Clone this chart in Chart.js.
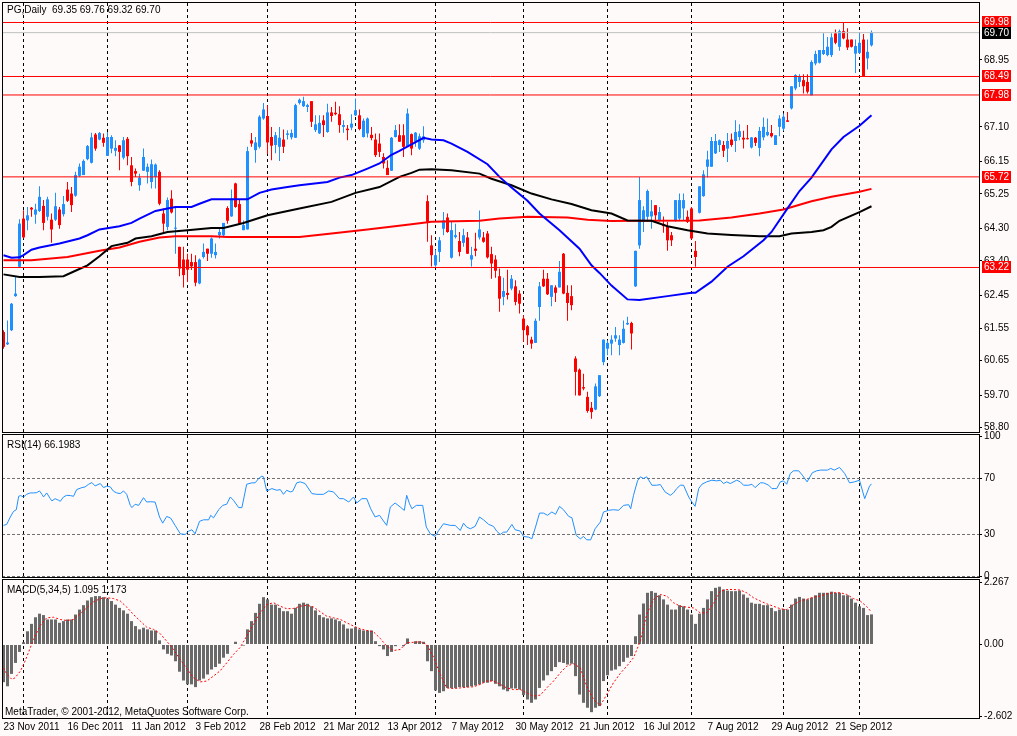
<!DOCTYPE html>
<html><head><meta charset="utf-8">
<script src="https://cdn.jsdelivr.net/npm/chart.js@4.4.1/dist/chart.umd.min.js"></script>
<style>
html,body{margin:0;padding:0;background:#FFFAFA;}
#wrap{position:relative;width:1017px;height:736px;overflow:hidden;background:#FFFAFA;}
canvas{position:absolute;left:0;top:0;}
.t{position:absolute;font:10px "Liberation Sans",Arial,sans-serif;color:#000;white-space:pre;line-height:12px;}
</style></head><body>
<div id="wrap">
<canvas id="cMain" width="1017" height="736"></canvas>
<canvas id="cRsi" width="1017" height="736"></canvas>
<canvas id="cMacd" width="1017" height="736"></canvas>
<div class="t" style="left:7px;top:4px">PG,Daily  69.35 69.76 69.32 69.70</div>
<div class="t" style="left:7px;top:439px">RSI(14) 66.1983</div>
<div class="t" style="left:7px;top:584px">MACD(5,34,5) 1.095 1.173</div>
<div class="t" style="left:5px;top:706px">MetaTrader, © 2001-2012, MetaQuotes Software Corp.</div>
</div>
<script>
// ---------- DATA ----------
const dateTickBars = [0,16,32,48,64,80,96,112,128,144,160,176,192,208];
const dateTickLabels = ["23 Nov 2011","16 Dec 2011","11 Jan 2012","3 Feb 2012","28 Feb 2012","21 Mar 2012","13 Apr 2012","7 May 2012","30 May 2012","21 Jun 2012","16 Jul 2012","7 Aug 2012","29 Aug 2012","21 Sep 2012"];
const monthStartBars = [5,26,46,66,88,108,130,151,172,195,214];

const priceTicks = [58.80,59.70,60.65,61.55,62.45,63.40,64.30,65.25,66.15,67.10,68.95];
const priceLevels = [69.98,68.49,67.98,65.72,63.22];
const lastPrice = 69.70;

const barOpen = [
61.44,61.10,61.49,62.43,63.24,64.57,64.52,64.87,64.68,64.78,
64.92,64.62,64.54,64.54,64.82,64.69,65.37,65.26,65.20,65.75,
65.77,66.21,66.11,66.89,66.75,66.80,66.30,66.50,66.44,66.59,
66.25,66.77,66.04,65.88,65.49,65.89,65.86,65.58,65.72,65.86,
64.71,64.34,65.12,64.29,63.79,63.44,63.44,63.37,63.37,62.78,
63.51,63.74,63.60,63.56,64.11,64.11,64.86,64.63,65.54,64.97,
64.25,64.27,66.73,66.46,66.55,67.33,67.40,66.82,66.60,66.55,
66.75,66.88,66.81,66.80,67.76,67.67,67.65,67.81,67.01,66.92,
67.28,66.96,67.50,67.49,67.45,67.10,67.05,67.08,67.42,67.42,
66.82,66.92,66.88,66.75,66.64,66.27,65.97,65.89,66.82,66.87,
66.87,66.55,66.90,66.69,66.50,66.73,65.05,63.83,63.28,63.65,
64.29,64.60,63.49,64.06,63.95,63.90,64.05,63.44,63.74,64.05,
64.05,64.16,63.59,63.44,62.98,62.41,62.52,62.64,62.70,62.50,
61.81,61.60,61.23,61.14,62.13,62.91,62.91,62.41,62.67,62.67,
63.60,62.52,62.43,60.71,60.40,59.92,59.65,59.35,59.30,59.67,
60.61,60.98,61.12,61.26,61.08,61.14,61.65,61.69,62.70,63.83,
64.48,64.62,64.63,64.94,64.52,64.41,64.34,64.11,64.52,64.57,
64.85,64.62,64.85,63.68,64.73,65.19,66.00,66.00,66.37,66.60,
66.60,66.50,66.75,66.71,66.82,66.80,66.78,66.53,66.80,66.52,
66.81,66.87,66.93,66.60,67.10,67.05,67.28,67.61,68.16,68.34,
68.39,68.34,67.97,68.85,68.87,69.11,69.08,69.08,69.68,69.31,
69.74,69.51,69.51,69.12,69.14,69.51,68.99,69.35];
const barHigh = [
61.49,61.76,62.24,62.96,64.55,64.80,64.89,64.89,64.98,65.46,
65.08,65.17,64.71,65.28,64.89,65.19,65.58,65.44,65.86,66.09,
66.20,66.60,66.94,66.93,66.96,66.92,66.96,66.87,66.73,66.60,
66.82,66.82,66.27,65.95,65.81,66.50,66.09,66.20,66.09,65.90,
64.85,65.15,65.35,64.91,63.79,63.79,63.60,63.60,63.56,63.47,
63.88,63.74,64.05,63.88,64.34,64.45,64.91,65.37,65.56,65.08,
64.52,66.55,66.93,66.82,67.42,67.76,67.70,67.10,66.96,67.10,
67.03,67.01,67.03,67.74,67.88,67.93,67.74,67.81,67.42,67.42,
67.42,67.74,67.65,67.79,67.67,67.28,67.15,67.45,67.88,67.58,
67.33,67.36,67.10,66.92,66.92,66.37,66.18,66.82,67.15,67.17,
67.17,67.61,66.92,66.96,66.92,67.12,65.21,64.11,63.71,64.06,
64.75,64.71,64.48,64.43,64.20,64.29,64.20,63.79,64.18,64.79,
64.20,64.23,63.79,63.56,63.19,62.94,63.16,63.01,62.87,62.59,
61.90,61.63,61.31,61.81,62.82,63.16,63.07,62.73,62.73,63.40,
63.62,62.73,62.73,60.77,60.43,60.29,59.79,59.51,60.02,60.25,
61.23,61.21,61.35,61.58,61.35,61.76,61.86,61.72,63.68,65.72,
64.91,65.37,65.08,64.94,64.89,64.63,64.48,64.20,65.08,65.26,
65.26,64.79,64.89,63.95,65.46,65.90,66.44,66.82,66.90,66.75,
66.71,66.93,66.92,67.28,67.17,66.99,67.15,66.82,66.82,67.10,
67.36,67.33,67.15,66.87,67.42,67.47,67.51,68.22,68.55,68.55,
68.55,68.55,68.94,69.20,69.22,69.68,69.58,69.68,69.79,69.79,
69.97,69.82,69.51,69.51,69.72,69.66,69.51,69.76];
const barLow = [
60.98,61.08,61.47,62.41,63.22,64.02,64.25,64.62,64.43,64.75,
64.25,64.52,63.90,64.50,64.29,64.63,65.03,64.75,65.17,65.72,
65.77,66.18,66.09,66.44,66.73,66.55,66.30,66.37,66.29,65.90,
66.20,66.04,65.46,65.72,65.34,65.89,65.54,65.40,65.40,64.94,
64.16,64.25,64.71,63.60,62.98,62.67,62.82,63.15,62.70,62.76,
63.47,63.40,63.49,63.47,64.02,64.06,64.43,64.62,64.87,64.41,
64.25,64.27,66.55,66.11,66.50,67.30,66.35,66.18,66.37,66.16,
66.38,66.75,66.75,66.79,67.72,67.65,67.51,67.10,66.96,66.90,
66.82,66.94,67.24,67.42,66.94,66.94,66.73,67.01,67.40,67.01,
66.81,66.81,66.73,66.27,66.27,65.95,65.77,65.89,66.81,66.69,
66.27,66.55,66.32,66.55,66.46,66.66,63.93,63.25,63.24,63.37,
64.11,64.18,63.47,64.02,63.53,63.79,63.59,63.25,63.53,63.99,
63.90,63.47,62.91,62.94,62.00,62.18,62.34,62.59,62.18,61.95,
61.17,61.08,60.98,61.14,61.75,62.68,62.46,62.15,62.27,62.67,
62.48,61.75,62.04,59.69,59.69,59.83,59.21,59.05,59.28,59.65,
60.52,60.80,60.80,61.17,60.80,61.12,61.63,60.96,62.68,63.74,
64.20,64.48,64.29,64.48,64.48,64.18,63.68,63.81,64.48,64.52,
64.52,64.45,63.99,63.24,64.71,65.17,65.70,66.00,66.35,66.41,
66.27,66.13,66.55,66.41,66.73,66.50,66.75,66.50,66.57,66.29,
66.73,66.84,66.81,66.60,66.84,66.99,67.24,67.58,68.11,68.20,
68.02,68.02,67.97,68.80,68.85,69.08,69.05,69.03,69.38,69.20,
69.52,69.22,69.29,68.59,69.12,68.49,68.68,69.32];
const barClose = [
61.03,61.15,62.22,62.50,64.43,64.05,64.66,64.82,64.82,65.17,
64.45,65.10,64.27,64.91,64.39,64.97,65.06,64.94,65.77,66.00,
66.16,66.57,66.81,66.50,66.93,66.66,66.82,66.82,66.52,66.41,
66.73,66.29,65.58,65.81,65.70,66.27,66.00,66.07,66.06,64.98,
64.43,65.08,64.74,64.32,63.19,63.01,63.16,63.25,62.80,63.44,
63.65,63.60,64.02,63.65,64.20,64.45,64.51,65.12,64.89,64.43,
64.39,66.43,66.64,66.67,67.38,67.58,66.67,66.58,66.87,66.80,
66.55,66.92,66.93,67.70,67.85,67.81,67.70,67.24,67.17,67.21,
67.15,67.50,67.40,67.45,67.15,67.15,67.01,67.19,67.56,67.04,
67.27,67.33,66.79,66.32,66.41,66.09,65.77,66.80,67.01,66.69,
66.55,67.47,66.50,66.94,66.84,66.84,64.48,63.56,63.56,63.97,
64.52,64.20,64.25,64.11,63.65,64.11,63.60,63.56,63.68,64.27,
63.93,63.50,63.33,63.13,62.36,62.57,62.46,62.91,62.27,62.22,
61.49,61.35,61.12,61.75,62.70,62.70,62.48,62.73,62.52,63.10,
62.50,62.24,62.18,60.34,59.69,59.88,59.26,59.23,59.94,60.25,
61.23,61.14,61.23,61.35,61.23,61.53,61.69,61.40,63.68,65.08,
64.80,65.33,64.77,64.66,64.75,64.36,63.97,63.97,65.08,65.08,
65.08,64.48,64.02,63.51,65.46,65.79,66.20,66.71,66.71,66.73,
66.44,66.71,66.60,66.96,66.98,66.75,66.76,66.81,66.66,66.99,
67.10,66.96,66.84,66.87,67.33,67.38,67.24,68.22,68.53,68.50,
68.22,68.07,68.89,69.11,69.22,69.22,69.31,69.57,69.42,69.74,
69.54,69.29,69.31,69.33,69.42,68.50,69.17,69.70];

// moving averages: [bar, value]
const maBlue = [[0,63.56],[2,63.49],[4,63.50],[5,63.56],[7,63.71],[9,63.77],[14,63.88],[19,64.02],[21,64.11],[24,64.27],[29,64.36],[32,64.45],[34,64.57],[38,64.78],[41,64.85],[43,64.89],[47,64.89],[49,64.98],[52,65.10],[61,65.10],[64,65.28],[67,65.37],[71,65.44],[74,65.49],[81,65.58],[84,65.70],[87,65.77],[91,65.95],[94,66.09],[97,66.33],[99,66.44],[102,66.62],[105,66.80],[107,66.75],[110,66.73],[112,66.64],[116,66.41],[121,66.07],[124,65.72],[127,65.43],[131,65.06],[134,64.71],[139,64.25],[144,63.74],[147,63.28],[149,63.07],[152,62.72],[156,62.34],[159,62.32],[166,62.43],[172,62.52],[173,62.52],[177,62.83],[181,63.24],[185,63.53],[190,63.97],[192,64.20],[196,64.85],[199,65.33],[202,65.70],[207,66.48],[210,66.82],[214,67.13],[217,67.42]];
const maBlack = [[0,63.03],[4,62.96],[9,62.96],[15,62.98],[18,63.13],[21,63.28],[24,63.53],[27,63.81],[31,63.90],[33,64.02],[37,64.08],[41,64.20],[46,64.25],[52,64.31],[55,64.31],[60,64.45],[66,64.66],[74,64.85],[82,65.03],[88,65.28],[94,65.44],[99,65.72],[102,65.83],[104,65.92],[107,65.93],[112,65.90],[119,65.81],[122,65.67],[127,65.49],[132,65.26],[137,65.10],[142,64.97],[147,64.80],[152,64.71],[156,64.52],[162,64.51],[166,64.36],[171,64.25],[176,64.16],[182,64.12],[189,64.08],[194,64.08],[197,64.16],[202,64.20],[205,64.25],[207,64.34],[209,64.51],[214,64.75],[217,64.91]];
const maRed = [[0,63.42],[7,63.42],[16,63.51],[24,63.68],[29,63.77],[34,63.93],[39,64.05],[43,64.08],[52,64.08],[56,64.06],[74,64.06],[82,64.16],[91,64.27],[102,64.41],[107,64.48],[119,64.51],[124,64.57],[131,64.62],[141,64.60],[146,64.54],[152,64.50],[158,64.51],[174,64.52],[182,64.60],[189,64.71],[195,64.82],[202,65.05],[207,65.17],[214,65.31],[217,65.39]];

// RSI(14): [bar, value]
const rsiLine = [[0,36.5],[0.8,37.2],[1.7,42.5],[2.5,46.5],[3.2,47.7],[3.8,57.3],[4.3,57.8],[5,56.8],[5.8,58.7],[6.7,59.7],[7.5,59.7],[8.3,59.9],[9,61.1],[9.6,58.7],[10,56.8],[10.8,59.7],[11.7,55.6],[12.1,54.0],[12.9,55.6],[13.8,54.4],[14.2,53.7],[15,56.8],[15.8,58.0],[16.7,57.8],[17.5,57.3],[18.3,62.1],[19.6,63.5],[20.4,64.0],[21.3,65.9],[22.1,67.1],[22.9,64.7],[24.2,66.4],[25,63.5],[25.8,64.5],[26.7,64.0],[27.5,60.9],[28.3,59.7],[29.2,59.2],[30,61.1],[30.8,58.7],[31.7,50.8],[32.1,49.2],[32.9,51.6],[33.8,50.8],[35,56.3],[35.8,53.2],[36.7,53.4],[37.9,53.2],[39,42.5],[39.8,38.1],[40.8,42.9],[41.8,41.7],[42.9,36.5],[44.2,30.5],[45.4,30.0],[46.3,32.4],[47.1,33.4],[47.9,30.5],[49,39.4],[50,40.5],[51.3,40.5],[51.8,43.7],[52.5,41.9],[53.8,47.7],[54.8,50.8],[55.8,51.6],[56.7,56.8],[57.5,54.4],[58.8,49.2],[59.6,49.2],[60.8,65.9],[62.1,66.9],[62.9,66.9],[63.8,70.0],[64.6,71.7],[65,71.2],[65.8,61.1],[67.1,62.8],[68.3,61.6],[69.2,62.1],[70,58.7],[70.8,61.6],[71.7,60.4],[72.3,60.9],[73.3,66.9],[74.2,67.6],[75.4,66.4],[77.1,59.2],[78.3,58.7],[80,58.7],[81.3,61.1],[82.5,60.4],[84,55.6],[85,55.6],[86.3,53.2],[87.5,56.8],[88.3,52.5],[89.6,55.6],[90.8,55.6],[91.8,48.4],[92.9,42.5],[94,43.7],[95,39.6],[95.8,36.5],[96.7,49.6],[97.9,52.5],[99.2,49.6],[100.2,47.2],[100.8,58.0],[101.5,52.0],[102.1,48.4],[103.2,50.8],[104.8,50.8],[105.7,35.3],[106.7,30.5],[107.9,28.6],[108.8,32.9],[110,37.7],[111.7,36.5],[112.9,36.5],[114.2,32.9],[115,38.1],[115.8,35.3],[116.7,34.1],[117.9,35.8],[119,42.5],[120,40.5],[121.3,37.2],[122.5,35.8],[123.3,32.4],[124.2,30.0],[125,31.7],[125.8,31.7],[127.1,37.2],[127.9,33.4],[129.2,32.4],[130,28.6],[131.3,28.1],[132.1,26.9],[133,35.3],[134,45.3],[135,45.3],[136,43.7],[137.1,46.1],[138,44.4],[139,50.1],[140,47.7],[141.3,42.9],[142.1,42.0],[143.2,29.3],[144.2,26.9],[145,28.6],[145.8,26.2],[146.8,26.2],[147.9,34.1],[149.2,38.9],[150,46.1],[151.3,47.3],[152.5,47.7],[153.8,47.3],[155,50.8],[156.3,51.3],[156.8,48.4],[157.5,58.0],[158.5,68.3],[159.2,71.2],[160,70.0],[160.8,71.2],[162.1,65.2],[163.3,65.2],[164.2,65.7],[165.4,60.4],[166.7,58.0],[167.5,59.7],[168.3,62.8],[169.2,65.2],[170,65.2],[171.3,56.8],[172.1,53.2],[172.9,50.1],[173.8,62.8],[174.6,65.9],[175.8,67.6],[177.1,68.8],[178.3,68.3],[179.2,68.8],[180,66.4],[180.8,67.6],[181.7,66.4],[183.3,68.8],[184.2,67.6],[185,65.2],[186.3,65.2],[187.1,65.9],[187.9,63.5],[189.2,66.9],[190,66.9],[191.3,65.2],[192.1,62.8],[193.3,62.8],[194.2,67.6],[195,68.3],[195.8,65.9],[196.7,73.6],[197.5,75.5],[198.8,75.5],[199.7,72.4],[200.9,67.6],[202.2,74.1],[203.3,75.5],[204.3,76.0],[206,76.0],[206.8,77.2],[207.7,76.0],[209,77.9],[210.3,73.6],[211.5,66.9],[212.8,67.6],[214,68.8],[215.3,55.6],[216.5,64.5],[217,66.2]];
const rsiTicks = [0,30,70,100];
const rsiLevels = [70,30,0];

// MACD(5,34,5)
const macdHist = [
-1.37,-1.52,-1.07,-0.67,-0.27,0.08,0.48,0.75,0.99,1.12,
1.07,0.91,0.91,0.91,0.79,0.85,0.91,0.91,1.09,1.27,
1.43,1.60,1.72,1.76,1.76,1.72,1.67,1.58,1.45,1.33,
1.24,1.12,0.85,0.67,0.55,0.61,0.55,0.51,0.51,0.15,
-0.18,-0.34,-0.40,-0.61,-0.99,-1.31,-1.45,-1.45,-1.55,-1.31,
-1.24,-1.09,-0.91,-0.82,-0.70,-0.48,-0.34,-0.02,0.10,0.02,
-0.04,0.55,0.85,1.15,1.48,1.72,1.64,1.45,1.45,1.33,
1.21,1.21,1.12,1.33,1.48,1.52,1.48,1.39,1.24,1.07,
0.99,0.95,0.95,0.91,0.85,0.73,0.58,0.58,0.63,0.55,
0.51,0.51,0.51,0.12,-0.06,-0.18,-0.42,-0.27,-0.06,-0.02,
-0.06,0.22,0.02,0.12,0.12,0.10,-0.61,-0.97,-1.67,-1.76,
-1.70,-1.58,-1.58,-1.58,-1.55,-1.55,-1.55,-1.52,-1.49,-1.45,
-1.39,-1.39,-1.33,-1.43,-1.52,-1.64,-1.70,-1.60,-1.60,-1.64,
-1.84,-2.00,-2.12,-2.00,-1.58,-1.31,-1.12,-0.97,-0.82,-0.64,
-0.67,-0.73,-0.70,-1.15,-1.82,-2.12,-2.30,-2.46,-2.30,-2.24,
-1.33,-1.12,-0.95,-0.91,-0.79,-0.63,-0.48,-0.42,0.30,1.09,
1.49,1.88,1.94,1.88,1.79,1.64,1.45,1.27,1.27,1.43,
1.39,1.27,1.09,0.75,1.12,1.33,1.64,1.94,2.06,2.10,
2.00,1.96,1.94,1.94,1.96,1.82,1.70,1.52,1.48,1.48,
1.43,1.43,1.33,1.21,1.27,1.29,1.27,1.45,1.67,1.73,
1.67,1.64,1.70,1.79,1.88,1.88,1.88,1.92,1.88,1.88,
1.79,1.79,1.67,1.52,1.39,1.33,1.07,1.095];
const macdSignal = [[0,-0.85],[0.8,-1.07],[2.1,-1.27],[2.9,-1.21],[4.2,-0.97],[5.2,-0.67],[6.3,-0.27],[7.5,0.18],[9.2,0.70],[10.8,0.97],[12.5,0.99],[14.2,0.91],[15.8,0.87],[17.5,0.91],[19.2,1.12],[20.8,1.33],[22.5,1.55],[24.2,1.67],[25.8,1.70],[27.5,1.67],[29.2,1.58],[30.8,1.36],[32.5,1.09],[34.2,0.85],[35.8,0.63],[37.5,0.55],[39.2,0.39],[40.8,0.12],[42.5,-0.18],[44.2,-0.55],[45.8,-0.87],[47.5,-1.21],[49.2,-1.36],[50.8,-1.33],[52.5,-1.15],[54.2,-0.95],[55.8,-0.67],[57.5,-0.36],[59.2,-0.10],[60.8,0.30],[62.5,0.73],[64.2,1.15],[65.8,1.45],[67.5,1.52],[69.2,1.39],[70.8,1.30],[72.5,1.31],[74.2,1.39],[75.8,1.43],[77.5,1.36],[79.2,1.19],[80.8,1.03],[82.5,0.97],[84.2,0.91],[85.8,0.79],[87.5,0.67],[89.2,0.57],[90.8,0.51],[92.5,0.46],[94.2,0.22],[95.8,-0.06],[97.5,-0.22],[99.2,-0.18],[100.8,0.06],[102.5,0.08],[104.2,0.10],[105.8,0.00],[107.5,-0.46],[109.2,-1.09],[110.8,-1.58],[112.5,-1.60],[114.2,-1.58],[115.8,-1.55],[117.5,-1.54],[119.2,-1.45],[120.8,-1.33],[122.5,-1.33],[124.2,-1.45],[125.8,-1.58],[127.5,-1.64],[129.2,-1.64],[130.8,-1.76],[132.5,-1.88],[134.2,-1.84],[135.8,-1.58],[137.5,-1.33],[139.2,-1.03],[140.8,-0.79],[142.5,-0.70],[144.2,-0.85],[145.8,-1.52],[147.5,-2.00],[149.2,-2.22],[150.8,-1.82],[152.5,-1.39],[154.2,-1.05],[155.8,-0.79],[157.5,-0.48],[159.2,0.12],[160.8,1.09],[162.5,1.64],[164.2,1.82],[165.8,1.76],[167.5,1.52],[169.2,1.39],[170.8,1.36],[172.5,1.33],[174.2,1.15],[175.8,1.15],[177.5,1.48],[179.2,1.94],[180.8,2.00],[182.5,2.00],[184.2,1.98],[185.8,1.88],[187.5,1.70],[189.2,1.58],[190.8,1.48],[192.5,1.39],[194.2,1.30],[195.8,1.27],[197.5,1.45],[199.2,1.58],[200.8,1.64],[202.5,1.72],[204.2,1.76],[205.8,1.84],[207.5,1.88],[209.2,1.88],[210.8,1.82],[212.5,1.67],[214.2,1.58],[215.8,1.38],[217,1.173]];
const macdTicks = [-2.602,0,2.267];

// ---------- LAYOUT (positions only) ----------
const X_MIN = -0.375, X_MAX = 243.875;
const FONT = '"Liberation Sans", Arial, sans-serif';
Chart.defaults.font.family = FONT;
Chart.defaults.font.size = 10;
Chart.defaults.color = '#000';
const UP = '#1E90FF', DOWN = '#FF0000';

function gridX(){
  return {type:'linear', min:X_MIN, max:X_MAX, offset:false, bounds:'data', position:'bottom',
    afterBuildTicks(s){ s.ticks = monthStartBars.map(v=>({value:v})); },
    afterFit(s){ s.height = 0; s.paddingLeft = 0; s.paddingRight = 0; },
    ticks:{display:false},
    grid:{color:'#000', lineWidth:1, drawTicks:false, offset:false},
    border:{display:false, dash:[3,3]}};
}
function rightY(min,max,ticks,fmt){
  return {type:'linear', position:'right', min, max, bounds:'data',
    afterBuildTicks(s){ s.ticks = ticks.map(v=>({value:v})); },
    afterFit(s){ s.width = 38; s.paddingTop = 0; s.paddingBottom = 0; },
    ticks:{autoSkip:false, padding:2, color:'#000', font:{size:10, family:FONT}, callback:fmt},
    grid:{drawOnChartArea:false, drawTicks:true, tickLength:3, tickColor:'#000'},
    border:{display:false}};
}
const framePlugin = {id:'frame', afterDraw(chart){
  const a = chart.chartArea, c = chart.ctx;
  c.save(); c.strokeStyle = '#000'; c.lineWidth = 1;
  c.strokeRect(a.left+0.5, a.top-0.5, a.right-a.left, a.bottom-a.top+1);
  c.restore();
}};
const common = {responsive:false, maintainAspectRatio:false, devicePixelRatio:1, animation:false, events:[],
  plugins:{legend:{display:false}, tooltip:{enabled:false}}};
const levelLine = (v,color,dash,order)=>({type:'line', data:[{x:X_MIN,y:v},{x:X_MAX,y:v}], borderColor:color, borderWidth:1, borderDash:dash||[], pointRadius:0, order});

// ---------- MAIN PRICE CHART ----------
const idx = barOpen.map((_,i)=>i);
const candleColor = i => barClose[i] >= barOpen[i] ? UP : DOWN;
const labelPlugin = {id:'levelLabels', afterDraw(chart){
  const y = chart.scales.y, c = chart.ctx;
  c.save(); c.font = '10px '+FONT; c.textBaseline = 'middle'; c.textAlign = 'left';
  const box = (v,bg)=>{ const py = Math.round(y.getPixelForValue(v)); c.fillStyle = bg; c.fillRect(982, py-6, 29, 12); c.fillStyle = '#fff'; c.fillText(v.toFixed(2), 984, py+0.5); };
  priceLevels.forEach(v=>box(v,'#FF0000'));
  box(lastPrice,'#000');
  c.restore();
}};
new Chart(document.getElementById('cMain'), {
  type:'bar',
  data:{datasets:[
    ...priceLevels.map(v=>levelLine(v,'#FF0000',[],0)),
    levelLine(lastPrice,'#C0C0C0',[],0),
    {type:'line', data:maBlue.map(p=>({x:p[0],y:p[1]})), borderColor:'#0000FF', borderWidth:2, pointRadius:0, tension:0, order:1},
    {type:'line', data:maBlack.map(p=>({x:p[0],y:p[1]})), borderColor:'#000000', borderWidth:2, pointRadius:0, tension:0, order:1},
    {type:'line', data:maRed.map(p=>({x:p[0],y:p[1]})), borderColor:'#FF0000', borderWidth:2, pointRadius:0, tension:0, order:1},
    {type:'bar', data:idx.map(i=>({x:i, y:[barOpen[i], barClose[i]]})), backgroundColor:ctx=>candleColor(ctx.dataIndex),
      barThickness:3, grouped:false, borderWidth:0, minBarLength:1, inflateAmount:0, order:5},
    {type:'bar', data:idx.map(i=>({x:i, y:[barLow[i], barHigh[i]]})), backgroundColor:ctx=>candleColor(ctx.dataIndex),
      barThickness:1, grouped:false, borderWidth:0, minBarLength:1, inflateAmount:0, order:6}
  ]},
  options:{...common, layout:{padding:{left:2, right:0, top:3, bottom:304}},
    scales:{x:gridX(), y:rightY(58.681, 70.518, priceTicks, v=>Number(v).toFixed(2))}},
  plugins:[framePlugin, labelPlugin]
});

// ---------- RSI ----------
new Chart(document.getElementById('cRsi'), {
  type:'line',
  data:{datasets:[
    {data:rsiLine.map(p=>({x:p[0],y:p[1]})), borderColor:UP, borderWidth:1, pointRadius:0, tension:0, order:0},
    ...rsiLevels.map(v=>levelLine(v,'#707070',[3,2],1))
  ]},
  options:{...common, layout:{padding:{left:2, right:0, top:435, bottom:159}},
    scales:{x:gridX(), y:rightY(-0.357, 101.07, rsiTicks, v=>String(v))}},
  plugins:[framePlugin]
});

// ---------- MACD ----------
const macdX = gridX();
new Chart(document.getElementById('cMacd'), {
  type:'bar',
  data:{datasets:[
    {type:'line', data:macdSignal.map(p=>({x:p[0],y:p[1]})), borderColor:'#FF0000', borderWidth:1, borderDash:[2,2], pointRadius:0, tension:0, order:0, xAxisID:'x'},
    {type:'bar', data:macdHist.map((v,i)=>({x:i,y:v})), backgroundColor:'#696969', barThickness:3, grouped:false, borderWidth:0, inflateAmount:0, order:1, xAxisID:'x'}
  ]},
  options:{...common, layout:{padding:{left:2, right:0, top:580, bottom:0}},
    scales:{
      x:macdX,
      xl:{type:'linear', position:'bottom', min:X_MIN, max:X_MAX, offset:false, bounds:'data',
        afterBuildTicks(s){ s.ticks = dateTickBars.map(v=>({value:v})); },
        afterFit(s){ s.height = 18; s.paddingLeft = 0; s.paddingRight = 0; },
        ticks:{autoSkip:false, maxRotation:0, minRotation:0, align:'start', padding:3, color:'#000', font:{size:10, family:FONT},
          callback:(v,i)=>dateTickLabels[i]},
        grid:{drawOnChartArea:false, drawTicks:false, offset:false}, border:{display:false}},
      y:rightY(-2.673, 2.345, macdTicks, v=>Number(v).toFixed(Math.abs(v)<1e-9?2:3))
    }},
  plugins:[framePlugin]
});
</script>
</body></html>
